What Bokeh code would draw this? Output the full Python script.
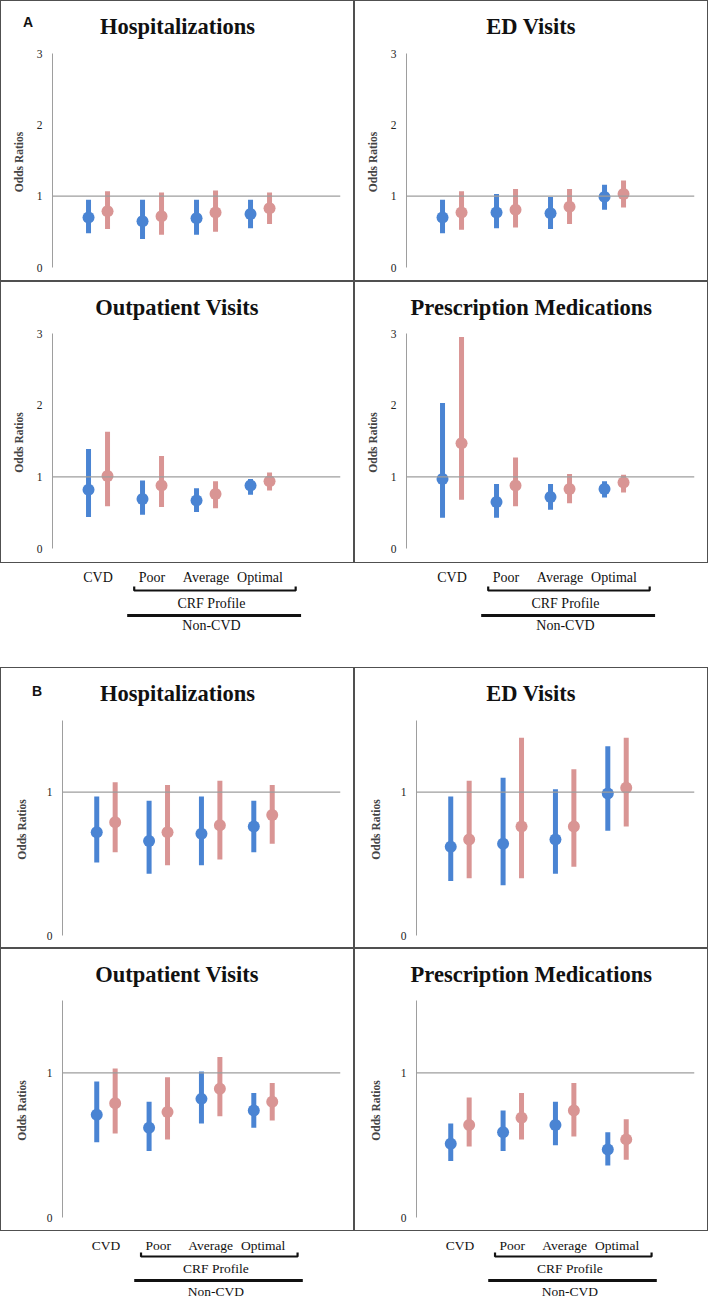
from bokeh.plotting import figure
from bokeh.layouts import column, row, Spacer
from bokeh.models import Range1d, FixedTicker, Span, ColumnDataSource, Div
from bokeh.core.properties import value
from bokeh.embed import file_html
from bokeh.resources import INLINE

# ---------------- data ----------------
categories = ["CVD", "Poor", "Average", "Optimal"]
group_label = "CRF Profile"
outer_label = "Non-CVD"
titles = ["Hospitalizations", "ED Visits", "Outpatient Visits", "Prescription Medications"]
panel_letters = ["A", "B"]
ticks_a = [0, 1, 2, 3]
ticks_b = [0, 1]

# Panel A (odds ratio, lower CI, upper CI) for blue and pink series
a_hosp_blue = [0.70, 0.65, 0.69, 0.75]
a_hosp_blue_lo = [0.48, 0.40, 0.46, 0.55]
a_hosp_blue_hi = [0.95, 0.95, 0.95, 0.95]
a_hosp_pink = [0.79, 0.72, 0.77, 0.83]
a_hosp_pink_lo = [0.54, 0.46, 0.50, 0.61]
a_hosp_pink_hi = [1.07, 1.05, 1.08, 1.05]

a_ed_blue = [0.70, 0.77, 0.76, 0.99]
a_ed_blue_lo = [0.48, 0.55, 0.54, 0.81]
a_ed_blue_hi = [0.95, 1.03, 0.99, 1.16]
a_ed_pink = [0.77, 0.81, 0.85, 1.03]
a_ed_pink_lo = [0.53, 0.56, 0.61, 0.84]
a_ed_pink_hi = [1.07, 1.10, 1.10, 1.22]

a_out_blue = [0.82, 0.69, 0.67, 0.88]
a_out_blue_lo = [0.44, 0.47, 0.51, 0.75]
a_out_blue_hi = [1.39, 0.95, 0.84, 0.97]
a_out_pink = [1.01, 0.88, 0.76, 0.94]
a_out_pink_lo = [0.59, 0.58, 0.56, 0.81]
a_out_pink_hi = [1.63, 1.29, 0.94, 1.06]

a_rx_blue = [0.97, 0.65, 0.72, 0.83]
a_rx_blue_lo = [0.43, 0.43, 0.54, 0.71]
a_rx_blue_hi = [2.03, 0.90, 0.90, 0.94]
a_rx_pink = [1.47, 0.88, 0.83, 0.92]
a_rx_pink_lo = [0.68, 0.59, 0.63, 0.78]
a_rx_pink_hi = [2.95, 1.27, 1.04, 1.03]

# Panel B
b_hosp_blue = [0.72, 0.66, 0.71, 0.76]
b_hosp_blue_lo = [0.51, 0.43, 0.49, 0.58]
b_hosp_blue_hi = [0.97, 0.94, 0.97, 0.94]
b_hosp_pink = [0.79, 0.72, 0.77, 0.84]
b_hosp_pink_lo = [0.58, 0.49, 0.53, 0.64]
b_hosp_pink_hi = [1.07, 1.05, 1.08, 1.05]

b_ed_blue = [0.62, 0.64, 0.67, 0.99]
b_ed_blue_lo = [0.38, 0.35, 0.43, 0.73]
b_ed_blue_hi = [0.97, 1.10, 1.02, 1.32]
b_ed_pink = [0.67, 0.76, 0.76, 1.03]
b_ed_pink_lo = [0.40, 0.40, 0.48, 0.76]
b_ed_pink_hi = [1.08, 1.38, 1.16, 1.38]

b_out_blue = [0.71, 0.62, 0.82, 0.74]
b_out_blue_lo = [0.52, 0.46, 0.65, 0.62]
b_out_blue_hi = [0.94, 0.80, 1.01, 0.86]
b_out_pink = [0.79, 0.73, 0.89, 0.80]
b_out_pink_lo = [0.58, 0.54, 0.70, 0.67]
b_out_pink_hi = [1.03, 0.97, 1.11, 0.93]

b_rx_blue = [0.51, 0.59, 0.64, 0.47]
b_rx_blue_lo = [0.39, 0.46, 0.50, 0.36]
b_rx_blue_hi = [0.65, 0.74, 0.80, 0.59]
b_rx_pink = [0.64, 0.69, 0.74, 0.54]
b_rx_pink_lo = [0.49, 0.54, 0.56, 0.40]
b_rx_pink_hi = [0.83, 0.86, 0.93, 0.68]

# ---------------- style ----------------
BLUE = "#4A84D3"
PINK = "#D99594"
BORDER = "#505050"
GRAYLINE = "#9E9E9E"
SERIF = "Liberation Serif"
SANS = "Liberation Sans"
PW = 354
TITLE_FS = 22.5
idx = [1, 2, 3, 4]
DODGE = 0.176

# Times/Liberation Serif Bold advance widths (per em) for centring titles
_W = {"H": .778, "o": .5, "s": .389, "p": .556, "i": .278, "t": .333, "a": .5, "l": .278,
      "z": .444, "n": .556, "E": .667, "D": .722, " ": .25, "V": .722, "O": .778, "u": .556,
      "e": .444, "P": .611, "r": .444, "c": .444, "M": .944, "d": .556}


def text_width(s, fs):
    return sum(_W.get(ch, 0.5) for ch in s) * fs


def panel(title, series, ymax, ticks, left, xr, ph, top, bottom):
    p = figure(width=PW, height=ph, x_range=xr, y_range=Range1d(0, ymax),
               output_backend="svg", toolbar_location=None, tools="",
               x_axis_location=None, min_border_left=left, min_border_right=14,
               min_border_top=top, min_border_bottom=bottom)
    p.outline_line_color = None
    p.border_fill_color = None
    p.background_fill_color = None
    p.styles = {"box-shadow": "inset 0 0 0 1px " + BORDER}
    p.grid.visible = False
    ax = p.yaxis[0]
    ax.ticker = FixedTicker(ticks=ticks)
    ax.axis_line_color = GRAYLINE
    ax.major_tick_line_color = None
    ax.minor_tick_line_color = None
    ax.major_tick_out = 0
    ax.major_tick_in = 0
    ax.major_label_text_font = SERIF
    ax.major_label_text_font_size = "11.5px"
    ax.major_label_text_color = "#222222"
    ax.major_label_standoff = 10
    ax.axis_label = "Odds  Ratios"
    ax.axis_label_text_font = SERIF
    ax.axis_label_text_font_style = "bold"
    ax.axis_label_text_font_size = "11.5px"
    ax.axis_label_standoff = 9 if left < 60 else 16
    p.add_layout(Span(location=1, dimension="width", line_color=GRAYLINE, line_width=1.2))
    for vals, lo, hi, color, off in series:
        xs = [i + off for i in idx]
        src = ColumnDataSource(dict(x=xs, y=vals, lo=lo, hi=hi))
        p.segment(x0="x", y0="lo", x1="x", y1="hi", source=src, line_width=5,
                  line_color=color, line_cap="butt")
        p.scatter(x="x", y="y", source=src, size=12, fill_color=color, line_color=None)
    p.title.text = title
    p.title.align = "left"
    p.title.vertical_align = "top"
    p.title.offset = PW / 2 - left - text_width(title, TITLE_FS) / 2
    p.title.standoff = top - 28
    p.title.text_font = SERIF
    p.title.text_font_style = "bold"
    p.title.text_font_size = f"{TITLE_FS}px"
    p.title.text_color = "#111111"
    return p


def letter_div(letter, left_px, top_px):
    return Div(text=letter, styles={
        "position": "absolute", "left": f"{left_px}px", "top": f"{top_px}px",
        "font-family": SANS, "font-weight": "bold", "font-size": "14px",
        "line-height": "15px", "color": "#111111", "z-index": "5",
        "margin": "0", "padding": "0"})


def labels_fig(xr, left, h, fs, ys):
    p = figure(width=PW, height=h, x_range=xr, y_range=Range1d(h, 0),
               output_backend="svg", toolbar_location=None, tools="",
               x_axis_location=None, y_axis_location=None,
               min_border_left=left, min_border_right=14, min_border_top=0, min_border_bottom=0)
    p.outline_line_color = None
    p.border_fill_color = None
    p.background_fill_color = None
    p.grid.visible = False
    y_cat, y_br, y_crf, y_line, y_non = ys
    p.text(x=idx, y=[y_cat] * 4, text=categories, text_align="center", text_baseline="middle",
           text_font=value(SERIF), text_font_size=fs, text_color="#111111")
    b0 = idx[1] - 0.33
    b1 = idx[3] + 0.66
    p.line(x=[b0, b0, b1, b1], y=[y_br - 4, y_br, y_br, y_br - 4], line_color="#111111",
           line_width=2.2)
    mid = idx[2] + 0.1
    p.text(x=[mid], y=[y_crf], text=[group_label], text_align="center", text_baseline="middle",
           text_font=value(SERIF), text_font_size=fs, text_color="#111111")
    l0 = idx[1] - 0.46
    l1 = idx[3] + 0.76
    p.segment(x0=[l0], y0=[y_line], x1=[l1], y1=[y_line], line_color="#111111", line_width=3)
    p.text(x=[mid], y=[y_non], text=[outer_label], text_align="center", text_baseline="middle",
           text_font=value(SERIF), text_font_size=fs, text_color="#111111")
    return p


xa = Range1d(0.157, 5.49)
xb = Range1d(0.17, 5.48)

pa1 = panel(titles[0], [(a_hosp_blue, a_hosp_blue_lo, a_hosp_blue_hi, BLUE, -DODGE),
                        (a_hosp_pink, a_hosp_pink_lo, a_hosp_pink_hi, PINK, DODGE)],
            3, ticks_a, 52, xa, 281, 53, 14)
pa2 = panel(titles[1], [(a_ed_blue, a_ed_blue_lo, a_ed_blue_hi, BLUE, -DODGE),
                        (a_ed_pink, a_ed_pink_lo, a_ed_pink_hi, PINK, DODGE)],
            3, ticks_a, 52, xa, 281, 53, 14)
pa3 = panel(titles[2], [(a_out_blue, a_out_blue_lo, a_out_blue_hi, BLUE, -DODGE),
                        (a_out_pink, a_out_pink_lo, a_out_pink_hi, PINK, DODGE)],
            3, ticks_a, 52, xa, 282, 52, 15)
pa4 = panel(titles[3], [(a_rx_blue, a_rx_blue_lo, a_rx_blue_hi, BLUE, -DODGE),
                        (a_rx_pink, a_rx_pink_lo, a_rx_pink_hi, PINK, DODGE)],
            3, ticks_a, 52, xa, 282, 52, 15)
la1 = labels_fig(xa, 52, 73, "14px", (14, 27, 40, 52, 62))
la2 = labels_fig(xa, 52, 73, "14px", (14, 27, 40, 52, 62))

pb1 = panel(titles[0], [(b_hosp_blue, b_hosp_blue_lo, b_hosp_blue_hi, BLUE, -DODGE),
                        (b_hosp_pink, b_hosp_pink_lo, b_hosp_pink_hi, PINK, DODGE)],
            1.5, ticks_b, 62, xb, 281, 53, 13)
pb2 = panel(titles[1], [(b_ed_blue, b_ed_blue_lo, b_ed_blue_hi, BLUE, -DODGE),
                        (b_ed_pink, b_ed_pink_lo, b_ed_pink_hi, PINK, DODGE)],
            1.5, ticks_b, 62, xb, 281, 53, 13)
pb3 = panel(titles[2], [(b_out_blue, b_out_blue_lo, b_out_blue_hi, BLUE, -DODGE),
                        (b_out_pink, b_out_pink_lo, b_out_pink_hi, PINK, DODGE)],
            1.5, ticks_b, 62, xb, 283, 52, 14)
pb4 = panel(titles[3], [(b_rx_blue, b_rx_blue_lo, b_rx_blue_hi, BLUE, -DODGE),
                        (b_rx_pink, b_rx_pink_lo, b_rx_pink_hi, PINK, DODGE)],
            1.5, ticks_b, 62, xb, 283, 52, 14)
lb1 = labels_fig(xb, 62, 69, "13.5px", (14, 25, 37, 49, 60))
lb2 = labels_fig(xb, 62, 69, "13.5px", (14, 25, 37, 49, 60))

GAP = 31
b_top = 281 + 282 + 73 + GAP
div_a = letter_div(panel_letters[0], 23, 15)
div_b = letter_div(panel_letters[1], 32, b_top + 17)

layout = column(div_a, div_b, row(pa1, pa2), row(pa3, pa4), row(la1, la2), Spacer(height=GAP),
                row(pb1, pb2), row(pb3, pb4), row(lb1, lb2))

open("out.html", "w").write(file_html(layout, INLINE, "Odds ratios"))
